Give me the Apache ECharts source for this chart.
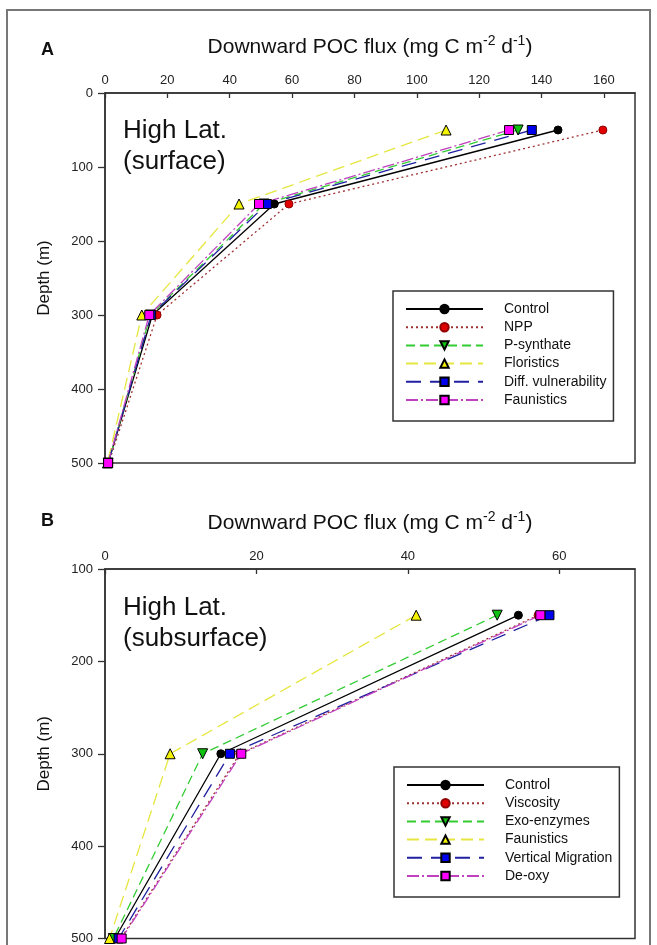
<!DOCTYPE html>
<html>
<head>
<meta charset="utf-8">
<script src="https://cdn.jsdelivr.net/npm/echarts@6/dist/echarts.min.js"></script>
<style>
  html, body { margin: 0; padding: 0; background: #fff; }
  #chart { width: 657px; height: 945px; }
</style>
</head>
<body>
<div id="chart"></div>
<script>
// panel A: high latitude, surface
const depthsA = [50, 150, 300, 500];
const namesA = ["Control", "NPP", "P-synthate", "Floristics", "Diff. vulnerability", "Faunistics"];
const controlA = [145.3, 54.3, 15.2, 1.0];
const nppA = [159.7, 59.0, 16.7, 1.2];
const psynthA = [132.5, 51.0, 14.6, 1.0];
const floristicsA = [109.4, 43.0, 11.8, 0.8];
const diffVulnA = [136.9, 51.9, 14.8, 1.0];
const faunisticsA = [129.6, 49.4, 14.2, 1.0];

// panel B: high latitude, subsurface
const depthsB = [150, 300, 500];
const namesB = ["Control", "Viscosity", "Exo-enzymes", "Faunistics", "Vertical Migration", "De-oxy"];
const controlB = [54.6, 15.3, 1.3];
const viscosityB = [57.2, 17.8, 2.1];
const exoEnzB = [51.8, 12.9, 1.1];
const faunisticsB = [41.1, 8.6, 0.6];
const vertMigB = [58.7, 16.5, 1.8];
const deoxyB = [57.5, 18.0, 2.2];

const ticksA = { min: 0, max: 170, interval: 20 };
const ticksB = { min: 0, max: 70, interval: 20 };
const depthTicksA = { min: 0, max: 500, interval: 100 };
const depthTicksB = { min: 100, max: 500, interval: 100 };

// line / marker looks, same order in both panels
const looks = [
  { line: "#000000", dash: "solid", symbol: "circle", size: 8, fill: "#000000", edge: "#000000" },
  { line: "#a03030", dash: [2, 3], symbol: "circle", size: 8, fill: "#e00000", edge: "#900000" },
  { line: "#33cc33", dash: [9, 5], symbol: "triangle", rotate: 180, size: 10, fill: "#10c010", edge: "#000000" },
  { line: "#e6e640", dash: [12, 6], symbol: "triangle", size: 10, fill: "#f4f400", edge: "#000000" },
  { line: "#2020a0", dash: [15, 9], symbol: "rect", size: 9, fill: "#0000ee", edge: "#000000" },
  { line: "#c040c0", dash: [12, 3, 2, 3], symbol: "rect", size: 9, fill: "#ff00ff", edge: "#000000" }
];

const FONT = "Liberation Sans, Arial, sans-serif";
const PREFIX_B = "B\u200b";

function makeSeries(name, values, depths, look, idx) {
  return {
    name: name,
    type: "line",
    xAxisIndex: idx,
    yAxisIndex: idx,
    data: values.map((v, i) => [v, depths[i]]),
    symbol: look.symbol,
    symbolSize: look.size,
    symbolRotate: look.rotate || 0,
    showAllSymbol: true,
    clip: false,
    lineStyle: { color: look.line, width: 1.3, type: look.dash },
    itemStyle: { color: look.fill, borderColor: look.edge, borderWidth: 1 },
    emphasis: { disabled: true },
    animation: false
  };
}

const valuesA = [controlA, nppA, psynthA, floristicsA, diffVulnA, faunisticsA];
const valuesB = [controlB, viscosityB, exoEnzB, faunisticsB, vertMigB, deoxyB];

const series = [];
namesA.forEach((n, i) => series.push(makeSeries(n, valuesA[i], depthsA, looks[i], 0)));
namesB.forEach((n, i) => series.push(makeSeries(PREFIX_B + n, valuesB[i], depthsB, looks[i], 1)));

const fluxName = "Downward POC flux (mg C m{s|-2} d{s|-1})";
const fluxNameStyle = {
  fontFamily: FONT, fontSize: 21, color: "#111", lineHeight: 26,
  rich: { s: { fontFamily: FONT, fontSize: 14, color: "#111", verticalAlign: "top", lineHeight: 15 } }
};

function xAxis(idx, t) {
  return {
    type: "value", gridIndex: idx, position: "top",
    min: t.min, max: t.max, interval: t.interval,
    name: fluxName, nameLocation: "middle", nameGap: 33, nameTextStyle: fluxNameStyle,
    axisLine: { show: true, lineStyle: { color: "#333", width: 1.5 } },
    axisTick: { show: true, inside: true, length: 5, lineStyle: { color: "#333", width: 1.3 } },
    axisLabel: { fontFamily: FONT, fontSize: 13, color: "#222", margin: 6, showMaxLabel: false },
    splitLine: { show: false }
  };
}

function yAxis(idx, t) {
  return {
    type: "value", gridIndex: idx, inverse: true,
    min: t.min, max: t.max, interval: t.interval,
    name: "Depth (m)", nameLocation: "middle", nameGap: 52,
    nameTextStyle: { fontFamily: FONT, fontSize: 17, color: "#111" },
    axisLine: { show: true, lineStyle: { color: "#333", width: 1.5 } },
    axisTick: { show: true, inside: false, length: 7, lineStyle: { color: "#333", width: 1.3 } },
    axisLabel: { fontFamily: FONT, fontSize: 13, color: "#222", margin: 12 },
    splitLine: { show: false }
  };
}

function legend(names, left, top, prefix) {
  return {
    orient: "vertical", left: left, top: top,
    data: names.map(n => prefix + n),
    formatter: n => n.replace(prefix, ""),
    itemWidth: 77, itemHeight: 10.5, itemGap: 4.2,
    padding: [11, 7, 14, 12],
    borderColor: "#333", borderWidth: 1.5, backgroundColor: "#fff",
    selectedMode: false,
    textStyle: { fontFamily: FONT, fontSize: 14, color: "#111", padding: [0, 0, 0, 16] }
  };
}

const chart = echarts.init(document.getElementById("chart"));
chart.setOption({
  animation: false,
  backgroundColor: "#fff",
  title: [
    { text: "A", left: 36, top: 36, textStyle: { fontFamily: FONT, fontSize: 18, fontWeight: "bold", color: "#111" } },
    { text: "High Lat.\n(surface)", left: 118, top: 110,
      textStyle: { fontFamily: FONT, fontSize: 26, fontWeight: "normal", color: "#111", lineHeight: 31 } },
    { text: "B", left: 36, top: 507, textStyle: { fontFamily: FONT, fontSize: 18, fontWeight: "bold", color: "#111" } },
    { text: "High Lat.\n(subsurface)", left: 118, top: 587,
      textStyle: { fontFamily: FONT, fontSize: 26, fontWeight: "normal", color: "#111", lineHeight: 31 } }
  ],
  grid: [
    { left: 105, top: 93, width: 530, height: 370, show: true, borderColor: "#333", borderWidth: 1.5 },
    { left: 105, top: 569, width: 530, height: 370, show: true, borderColor: "#333", borderWidth: 1.5 }
  ],
  xAxis: [xAxis(0, ticksA), xAxis(1, ticksB)],
  yAxis: [yAxis(0, depthTicksA), yAxis(1, depthTicksB)],
  legend: [legend(namesA, 393, 291, ""), legend(namesB, 394, 767, PREFIX_B)],
  graphic: [
    { type: "rect", shape: { x: 7, y: 10, width: 643, height: 960 },
      style: { fill: "none", stroke: "#777", lineWidth: 2 }, silent: true }
  ],
  series: series
});
</script>
</body>
</html>
